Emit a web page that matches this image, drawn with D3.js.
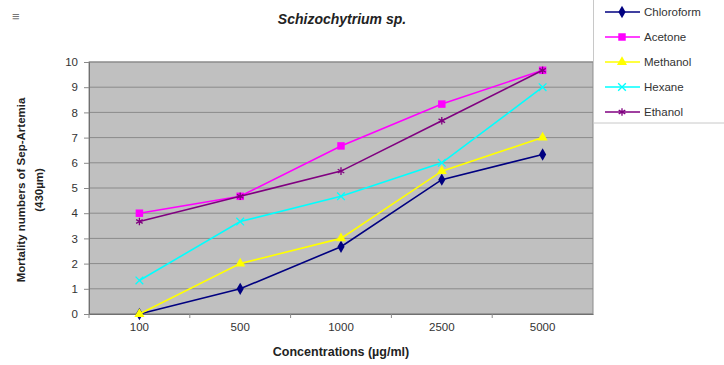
<!DOCTYPE html>
<html>
<head>
<meta charset="utf-8">
<script src="https://cdn.jsdelivr.net/npm/d3@7"></script>
<style>
  body { margin: 0; background: #fff; }
  svg { display: block; font-family: "Liberation Sans", Arial, sans-serif; }
</style>
</head>
<body>
<svg id="chart"></svg>
<script>
// chart data
const concentrations = ["100", "500", "1000", "2500", "5000"];
const seriesNames = ["Chloroform", "Acetone", "Methanol", "Hexane", "Ethanol"];
const chloroform = [0, 1, 2.67, 5.33, 6.33];
const acetone = [4, 4.67, 6.67, 8.33, 9.67];
const methanol = [0, 2, 3, 5.67, 7];
const hexane = [1.33, 3.67, 4.67, 6, 9];
const ethanol = [3.67, 4.67, 5.67, 7.67, 9.67];
const yTicks = [0, 1, 2, 3, 4, 5, 6, 7, 8, 9, 10];

const colors = ["#000080", "#ff00ff", "#ffff00", "#00ffff", "#800080"];
const symbols = [d3.symbolDiamond, d3.symbolSquare, d3.symbolTriangle, d3.symbolX, d3.symbolAsterisk];
const symbolSizes = [44, 56, 44, 40, 40];
const stroked = [false, false, false, true, true];

const series = seriesNames.map((name, i) => ({
  name: name,
  values: [chloroform, acetone, methanol, hexane, ethanol][i],
  color: colors[i],
  symbol: symbols[i],
  size: symbolSizes[i],
  stroked: stroked[i]
}));

const width = 724, height = 365;
const svg = d3.select("#chart").attr("width", width).attr("height", height);

const plotLeft = 89, plotRight = 593, plotTop = 62, plotBottom = 314;

const x = d3.scaleBand().domain(concentrations).range([plotLeft, plotRight]);
const y = d3.scaleLinear().domain([0, 10]).range([plotBottom, plotTop]);

// plot background
svg.append("rect")
  .attr("x", plotLeft).attr("y", plotTop)
  .attr("width", plotRight - plotLeft).attr("height", plotBottom - plotTop)
  .attr("fill", "#c0c0c0")
  .attr("stroke", "#8c8c8c");

// gridlines
svg.append("g").selectAll("line")
  .data(yTicks)
  .enter().append("line")
  .attr("x1", plotLeft).attr("x2", plotRight)
  .attr("y1", d => y(d)).attr("y2", d => y(d))
  .attr("stroke", "#8a8a8a")
  .attr("stroke-width", 1);

// y axis
const yAxis = svg.append("g")
  .attr("transform", `translate(${plotLeft},0)`)
  .call(d3.axisLeft(y).tickValues(yTicks).tickSize(5).tickPadding(6));
yAxis.select(".domain").attr("stroke", "#707070");
yAxis.selectAll(".tick line").attr("stroke", "#8a8a8a");
yAxis.selectAll("text").attr("font-size", 11.5).attr("fill", "#333")
  .attr("font-family", "Liberation Sans, Arial, sans-serif");

// x axis: ticks sit between categories
const xAxis = svg.append("g")
  .attr("transform", `translate(0,${plotBottom})`)
  .call(d3.axisBottom(x).tickSize(0).tickPadding(9));
xAxis.select(".domain").attr("stroke", "#707070");
xAxis.selectAll("text").attr("font-size", 11.5).attr("fill", "#333")
  .attr("font-family", "Liberation Sans, Arial, sans-serif");
svg.append("g").selectAll("line")
  .data(concentrations)
  .enter().append("line")
  .attr("x1", d => x(d)).attr("x2", d => x(d))
  .attr("y1", plotBottom).attr("y2", plotBottom + 4)
  .attr("stroke", "#8a8a8a");

// marker helper
function drawMarker(sel, s) {
  sel.attr("d", d3.symbol().type(s.symbol).size(s.size))
    .attr("fill", s.stroked ? "none" : s.color)
    .attr("stroke", s.color)
    .attr("stroke-width", s.stroked ? 1.3 : 0);
}

// lines + markers
const line = d3.line()
  .x((d, i) => x(concentrations[i]) + x.bandwidth() / 2)
  .y(d => y(d));

series.forEach(s => {
  svg.append("path")
    .datum(s.values)
    .attr("d", line)
    .attr("fill", "none")
    .attr("stroke", s.color)
    .attr("stroke-width", 1.6);

  svg.append("g").selectAll("path")
    .data(s.values)
    .enter().append("path")
    .attr("transform", (d, i) => `translate(${x(concentrations[i]) + x.bandwidth() / 2},${y(d)})`)
    .call(drawMarker, s);
});

// title
svg.append("text")
  .attr("x", 342).attr("y", 24)
  .attr("text-anchor", "middle")
  .attr("font-size", 14)
  .attr("font-weight", "bold")
  .attr("font-style", "italic")
  .attr("fill", "#222")
  .text("Schizochytrium sp.");

// small mark in top-left corner
svg.append("text")
  .attr("x", 12).attr("y", 21)
  .attr("font-size", 13)
  .attr("fill", "#777")
  .text("\u2261");

// axis titles
svg.append("text")
  .attr("transform", "translate(25,190) rotate(-90)")
  .attr("text-anchor", "middle")
  .attr("font-size", 11.5)
  .attr("font-weight", "bold")
  .attr("font-family", "Liberation Sans Narrow, Arial Narrow, sans-serif")
  .attr("fill", "#222")
  .text("Mortality numbers of Sep-Artemia");
svg.append("text")
  .attr("transform", "translate(43,190) rotate(-90)")
  .attr("text-anchor", "middle")
  .attr("font-size", 11.5)
  .attr("font-weight", "bold")
  .attr("font-family", "Liberation Sans Narrow, Arial Narrow, sans-serif")
  .attr("fill", "#222")
  .text("(430\u00b5m)");

svg.append("text")
  .attr("x", 341).attr("y", 356)
  .attr("text-anchor", "middle")
  .attr("font-size", 12.5)
  .attr("font-weight", "bold")
  .attr("fill", "#222")
  .text("Concentrations (\u00b5g/ml)");

// legend
const legend = svg.append("g");
legend.append("rect")
  .attr("x", 593.5).attr("y", -2)
  .attr("width", 140).attr("height", 125)
  .attr("fill", "#fff")
  .attr("stroke", "#c8c8c8");

const legendY = d3.scalePoint().domain(seriesNames).range([12, 112]);
series.forEach(s => {
  const ly = legendY(s.name);
  legend.append("line")
    .attr("x1", 605).attr("x2", 640)
    .attr("y1", ly).attr("y2", ly)
    .attr("stroke", s.color).attr("stroke-width", 1.6);
  legend.append("path")
    .attr("transform", `translate(622,${ly})`)
    .call(drawMarker, s);
  legend.append("text")
    .attr("x", 644).attr("y", ly + 4)
    .attr("font-size", 11.5)
    .attr("fill", "#333")
    .text(s.name);
});
</script>
</body>
</html>
